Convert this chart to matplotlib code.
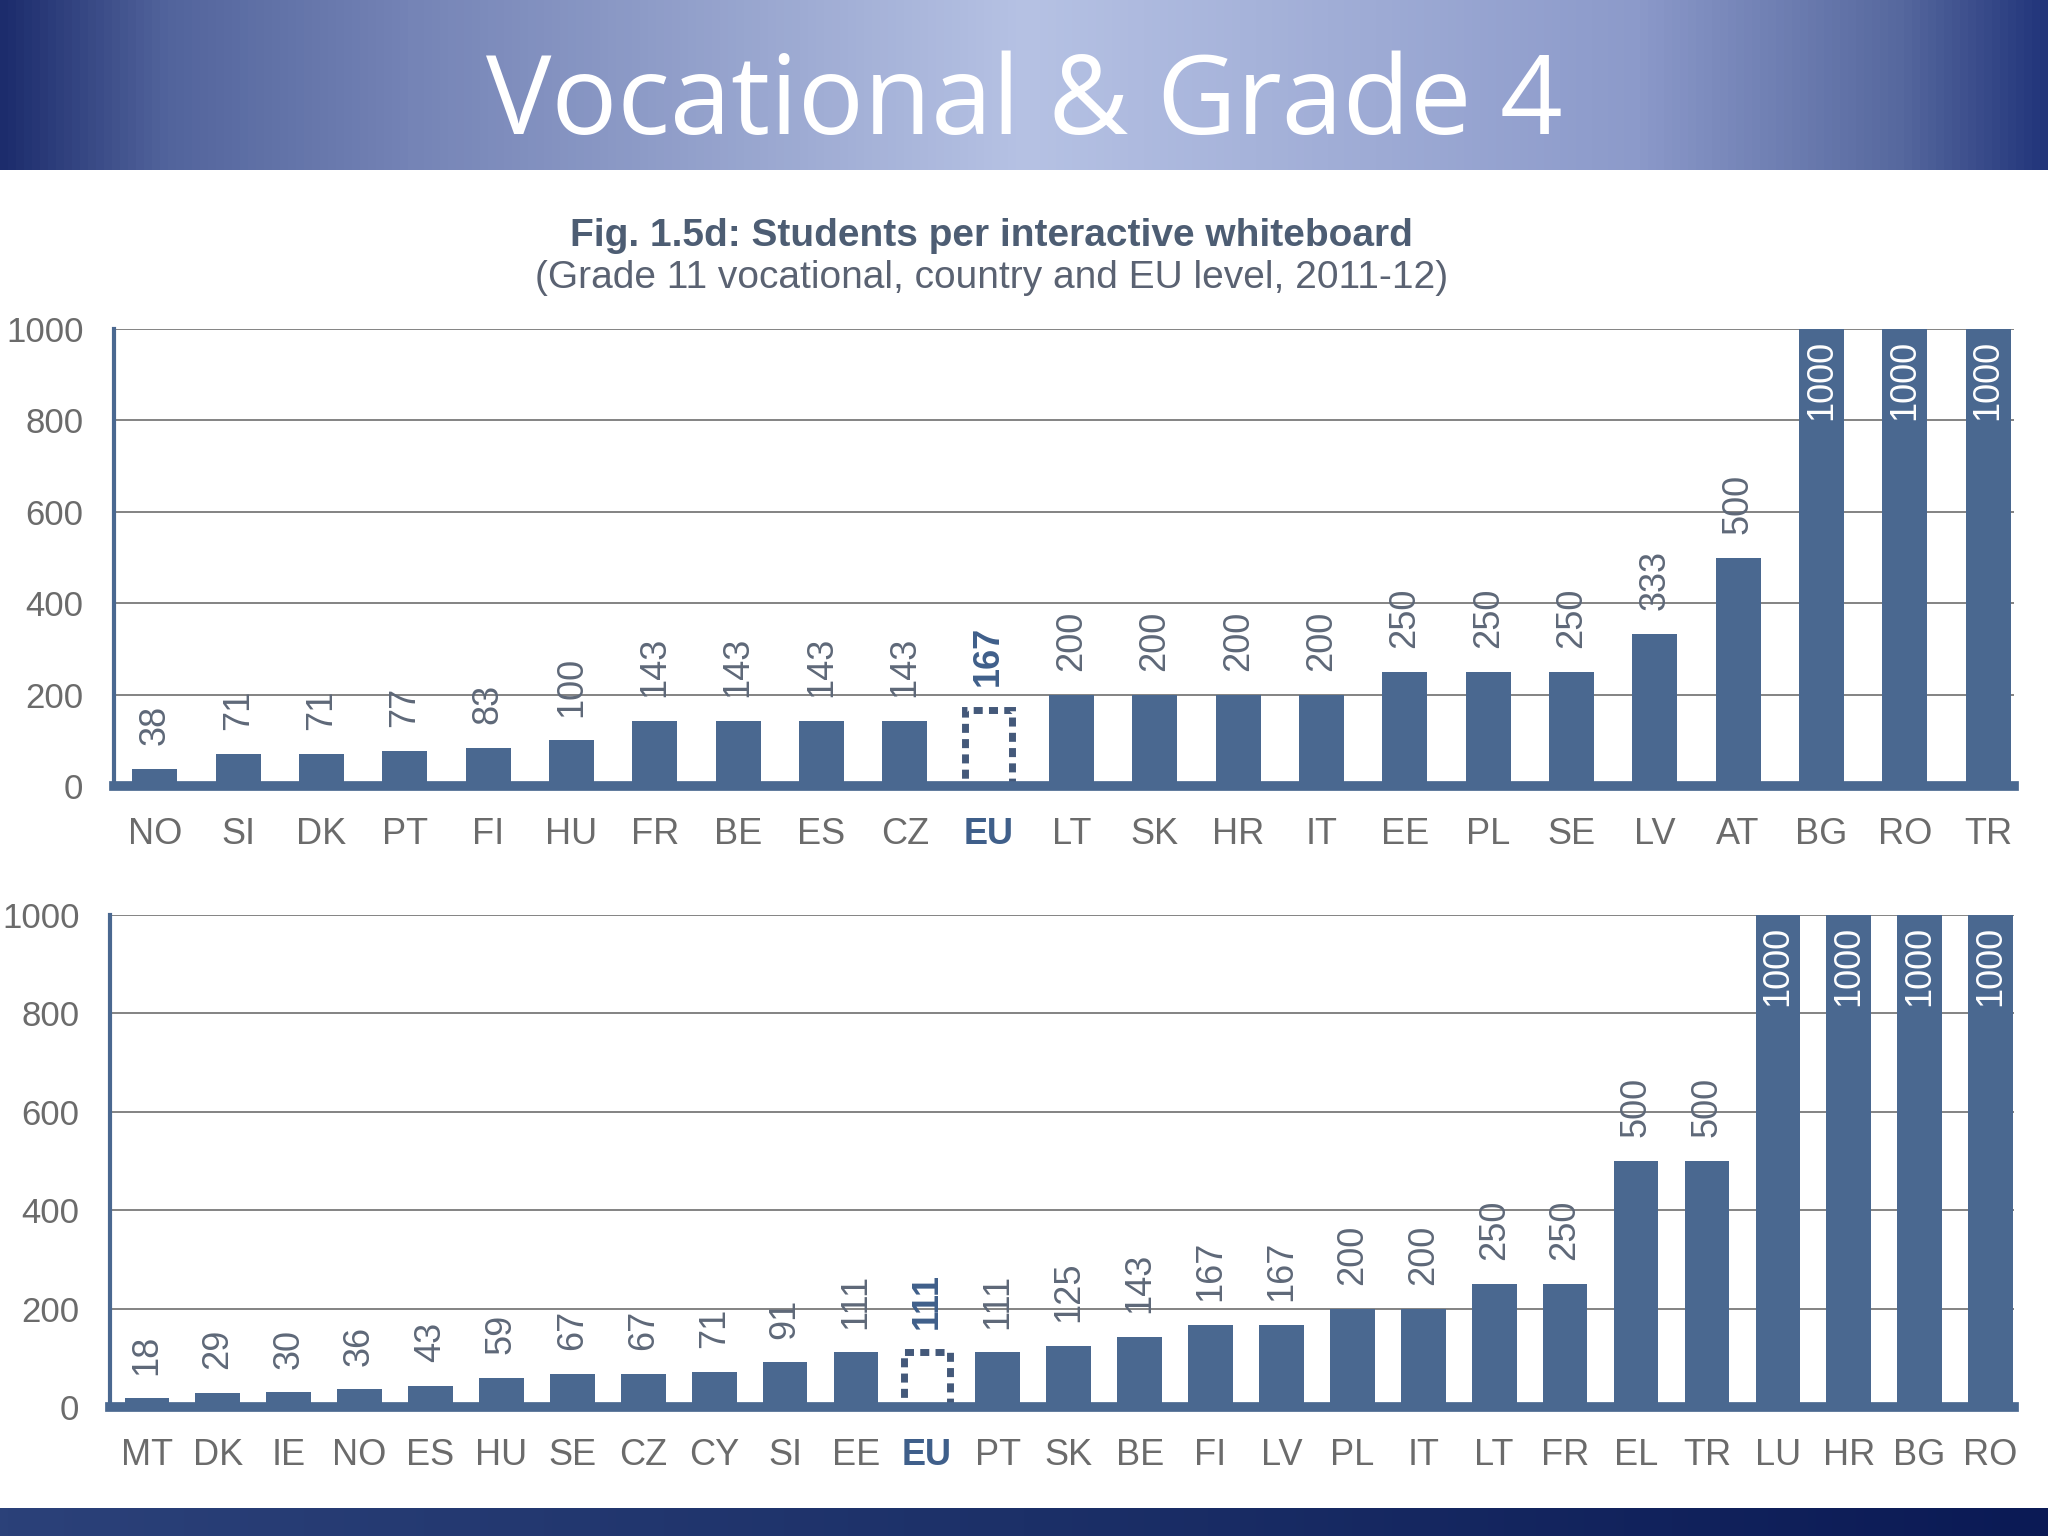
import numpy as np
import matplotlib.pyplot as plt
from matplotlib.colors import LinearSegmentedColormap

# --- data ---
top_countries = ['NO', 'SI', 'DK', 'PT', 'FI', 'HU', 'FR', 'BE', 'ES', 'CZ', 'EU', 'LT',
                 'SK', 'HR', 'IT', 'EE', 'PL', 'SE', 'LV', 'AT', 'BG', 'RO', 'TR']
top_values = [38, 71, 71, 77, 83, 100, 143, 143, 143, 143, 167, 200,
              200, 200, 200, 250, 250, 250, 333, 500, 1000, 1000, 1000]

bottom_countries = ['MT', 'DK', 'IE', 'NO', 'ES', 'HU', 'SE', 'CZ', 'CY', 'SI', 'EE', 'EU',
                    'PT', 'SK', 'BE', 'FI', 'LV', 'PL', 'IT', 'LT', 'FR', 'EL', 'TR', 'LU',
                    'HR', 'BG', 'RO']
bottom_values = [18, 29, 30, 36, 43, 59, 67, 67, 71, 91, 111, 111,
                 111, 125, 143, 167, 167, 200, 200, 250, 250, 500, 500, 1000,
                 1000, 1000, 1000]

yticks = [0, 200, 400, 600, 800, 1000]

BAR = '#4a6890'
EU_COL = '#3f5f8a'
TICK = '#6b6b6b'
VAL = '#5e6878'

plt.rcParams['font.family'] = ['Liberation Sans', 'DejaVu Sans']

fig = plt.figure(figsize=(20.48, 15.36), dpi=100)
fig.patch.set_facecolor('white')

# --- header band ---
head = fig.add_axes([0, 1 - 170 / 1536, 1, 170 / 1536])
head_cmap = LinearSegmentedColormap.from_list(
    'head', [(0.0, '#1c2c6c'), (0.08, '#52649c'), (0.2, '#7584b6'),
             (0.5, '#b6c2e4'), (0.8, '#8c9aca'), (0.93, '#56689e'), (1.0, '#22357a')])
head.imshow(np.linspace(0, 1, 512).reshape(1, -1), aspect='auto', cmap=head_cmap,
            extent=[0, 1, 0, 1])
head.set_axis_off()
head.text(0.5, 0.38, 'Vocational & Grade 4', color='white', fontsize=79,
          family='Open Sans', ha='center', va='center', transform=head.transAxes)

# --- footer band ---
foot = fig.add_axes([0, 0, 1, 28 / 1536])
foot_cmap = LinearSegmentedColormap.from_list('foot', ['#2b4179', '#1c3068', '#0b1a55'])
foot.imshow(np.linspace(0, 1, 512).reshape(1, -1), aspect='auto', cmap=foot_cmap,
            extent=[0, 1, 0, 1])
foot.set_axis_off()

# --- figure caption ---
fig.text(0.484, 1 - 236 / 1536, 'Fig. 1.5d: Students per interactive whiteboard',
         fontsize=28, fontweight='bold', color='#4d5d73', ha='center', va='center')
fig.text(0.484, 1 - 278 / 1536, '(Grade 11 vocational, country and EU level, 2011-12)',
         fontsize=28, color='#5a6272', ha='center', va='center')


def draw_panel(ax, countries, values, xlim):
    x = np.arange(len(countries))
    for i, (c, v) in enumerate(zip(countries, values)):
        if c == 'EU':
            ax.bar(i, v, width=0.56 if len(countries) < 25 else 0.64, fill=False,
                   edgecolor='#44597a', linewidth=5, linestyle=(0, (1.3, 0.9)), zorder=3)
        else:
            ax.bar(i, v, width=0.54 if len(countries) < 25 else 0.63, color=BAR,
                   linewidth=0, zorder=3)
        if v >= 1000:
            ax.annotate(str(v), (i, v), xytext=(0, -8), textcoords='offset points',
                        rotation=90, ha='center', va='top', fontsize=26,
                        color='white', zorder=4)
        else:
            ax.annotate(str(v), (i, v), xytext=(0, 17), textcoords='offset points',
                        rotation=90, ha='center', va='bottom', fontsize=26,
                        color=EU_COL if c == 'EU' else VAL,
                        fontweight='bold' if c == 'EU' else 'normal', zorder=4)

    ax.set_xlim(*xlim)
    ax.set_ylim(0, 1000)
    ax.set_yticks(yticks)
    ax.set_yticklabels([str(t) for t in yticks], fontsize=25, color=TICK)
    ax.set_xticks(x)
    ax.set_xticklabels(countries, fontsize=26, color=TICK)
    for lbl in ax.get_xticklabels():
        if lbl.get_text() == 'EU':
            lbl.set_fontweight('bold')
            lbl.set_color(EU_COL)
    ax.tick_params(axis='both', length=0)
    ax.tick_params(axis='y', pad=22)
    ax.tick_params(axis='x', pad=22)
    ax.set_axisbelow(True)
    ax.yaxis.grid(True, color='#7a7a7a', linewidth=1.3)
    ax.spines['top'].set_visible(False)
    ax.spines['right'].set_visible(False)
    ax.spines['left'].set_color(BAR)
    ax.spines['left'].set_linewidth(3)
    ax.spines['bottom'].set_color(BAR)
    ax.spines['bottom'].set_linewidth(7)
    ax.spines['bottom'].set_zorder(5)
    ax.set_facecolor('none')


ax1 = fig.add_axes([114 / 2048, 1 - 786 / 1536, 1900 / 2048, 457 / 1536])
draw_panel(ax1, top_countries, top_values, (-0.49, 22.31))

ax2 = fig.add_axes([110 / 2048, 1 - 1407 / 1536, 1904 / 2048, 492 / 1536])
draw_panel(ax2, bottom_countries, bottom_values, (-0.52, 26.33))

fig.savefig('out.png', dpi=100, facecolor='white')
